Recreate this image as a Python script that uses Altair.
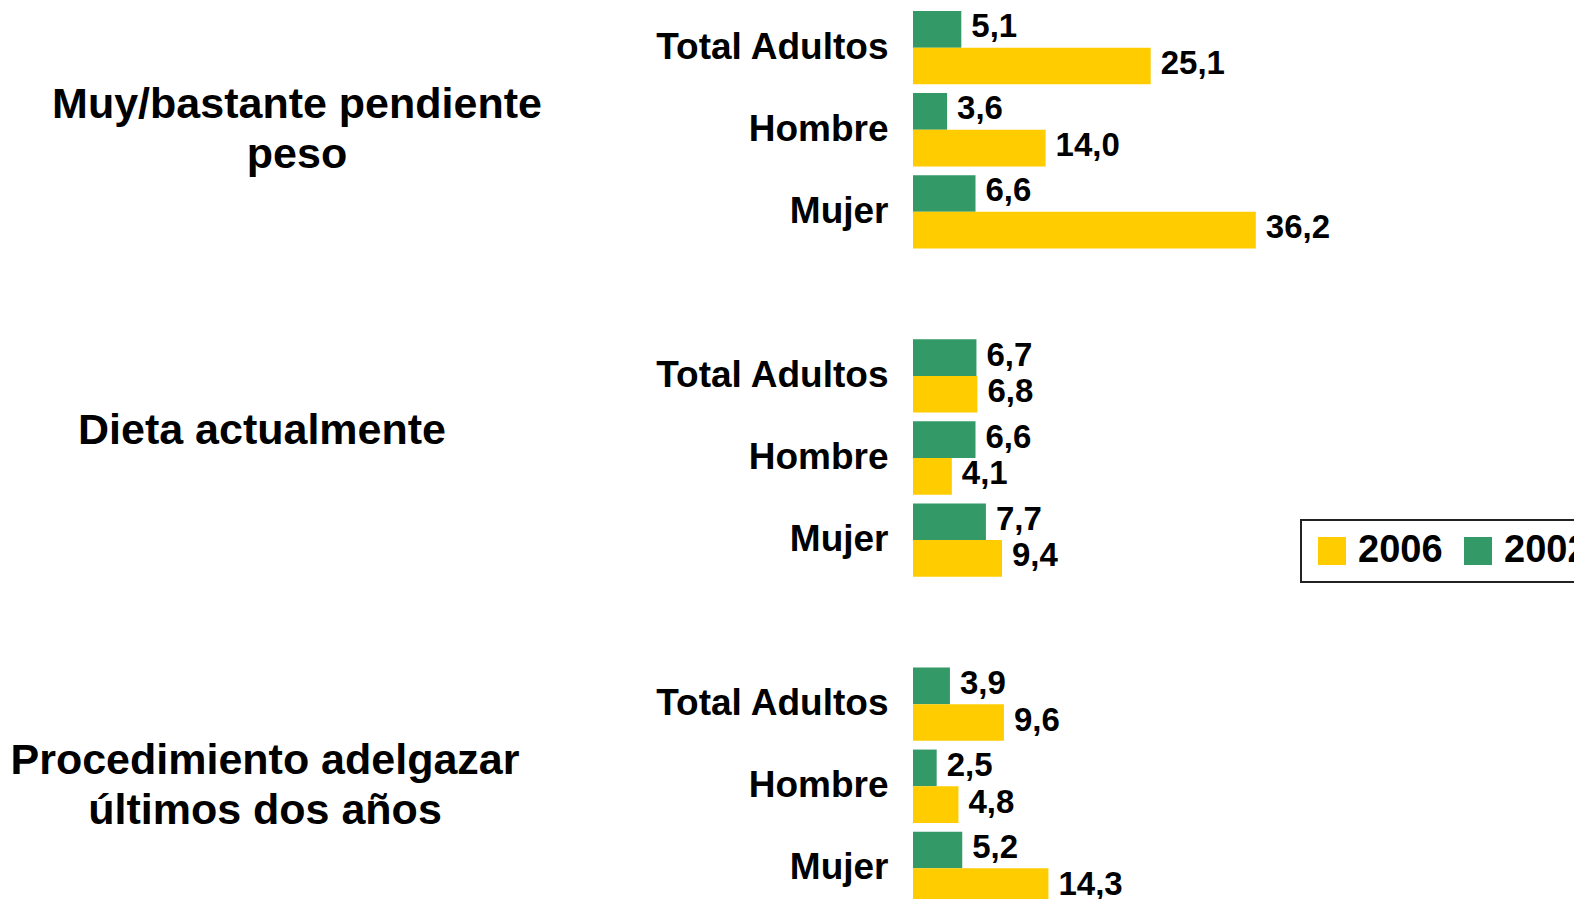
import altair as alt
import pandas as pd

FONT = "Liberation Sans"

groups = ["Muy/bastante pendiente peso", "Dieta actualmente", "Procedimiento adelgazar últimos dos años"]
categories = ["Total Adultos", "Hombre", "Mujer"]
years = ["2006", "2002"]

values_2002 = [[5.1, 3.6, 6.6], [6.7, 6.6, 7.7], [3.9, 2.5, 5.2]]
values_2006 = [[25.1, 14.0, 36.2], [6.8, 4.1, 9.4], [9.6, 4.8, 14.3]]

rows = []
row_domain = []
for gi, g in enumerate(groups):
    for ci, c in enumerate(categories):
        key = f"g{gi}|{c}"
        row_domain.append(key)
        rows.append({"row": key, "year": "2002", "value": values_2002[gi][ci]})
        rows.append({"row": key, "year": "2006", "value": values_2006[gi][ci]})
    if gi < len(groups) - 1:
        row_domain.append(f"s{gi}|")
df = pd.DataFrame(rows)

y_enc = alt.Y(
    "row:N",
    scale=alt.Scale(domain=row_domain, range=[0, 894], paddingInner=0.106, paddingOuter=0),
    axis=alt.Axis(
        title=None, domain=False, ticks=False, grid=False,
        labelExpr="split(datum.label, '|')[1]",
        labelFont=FONT, labelFontSize=37, labelFontWeight="bold", labelColor="black",
        labelPadding=25, labelLimit=0,
    ),
)
y_off = alt.YOffset("year:N", scale=alt.Scale(domain=["2002", "2006"], paddingInner=0, paddingOuter=0))
x_enc = alt.X("value:Q", scale=alt.Scale(domain=[0, 69.8], nice=False, zero=True), axis=None)

base = alt.Chart(df)

bars = base.mark_bar().encode(
    x=x_enc,
    y=y_enc,
    yOffset=y_off,
    color=alt.Color(
        "year:N",
        scale=alt.Scale(domain=years, range=["#FFCC00", "#339966"]),
        legend=alt.Legend(
            orient="none", legendX=388, legendY=509, direction="horizontal", columns=2,
            title=None, symbolType="square", symbolSize=784, symbolStrokeWidth=0,
            labelFont=FONT, labelFontSize=38, labelFontWeight="bold", labelColor="black",
            labelOffset=7, columnPadding=16, padding=12, labelLimit=0,
            strokeColor="#222222", fillColor="white",
        ),
    ),
)

labels = base.transform_calculate(
    lab="replace(format(datum.value, '.1f'), '.', ',')"
).mark_text(
    align="left", baseline="middle", dx=10, dy=-2, font=FONT, fontSize=33, fontWeight="bold", color="black"
).encode(
    x=x_enc,
    y=y_enc,
    yOffset=y_off,
    text="lab:N",
)

def title(lines, x, y):
    return alt.Chart(alt.Data(values=[{}])).mark_text(
        text=lines, align="center", baseline="alphabetic", lineHeight=50,
        font=FONT, fontSize=43, fontWeight="bold", color="black",
    ).encode(x=alt.value(x), y=alt.value(y))

t1 = title(["Muy/bastante pendiente", "peso"], 297 - 913, 118 - 11)
t2 = title(["Dieta actualmente"], 262 - 913, 444 - 11)
t3 = title(["Procedimiento adelgazar", "últimos dos años"], 265 - 913, 774 - 11)

chart = alt.layer(bars, labels, t1, t2, t3).properties(
    width=661,
    height=888,
    padding={"left": 905, "top": 3, "right": 0, "bottom": 0},
    autosize=alt.AutoSizeParams(type="none"),
    background="white",
).configure_view(stroke=None).configure_legend(strokeWidth=2)

chart.save("out.html", embed_options={"renderer": "svg", "actions": False})
